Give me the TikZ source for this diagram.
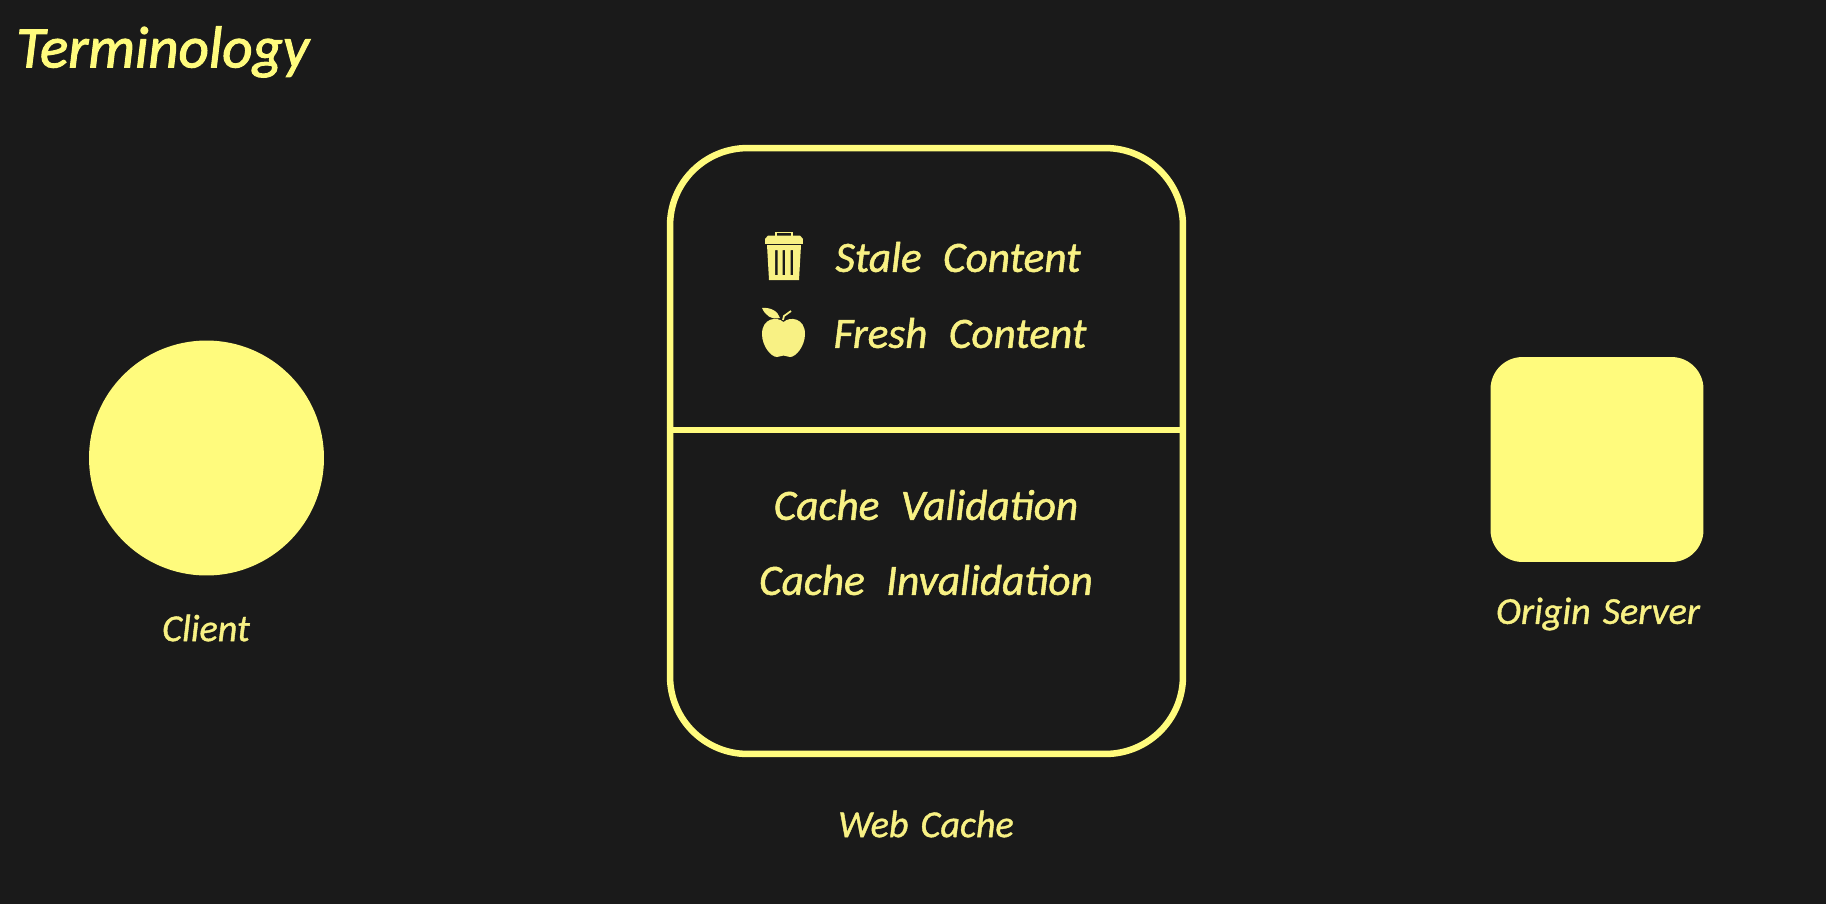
\documentclass[tikz,border=0pt]{standalone}
\usepackage{fontspec}
\setmainfont{Carlito}
\newfontfamily\handfont[ItalicFeatures={FakeBold=1.2},WordSpace=2.2]{Carlito}
\newfontfamily\tagfont[ItalicFeatures={FakeBold=1},WordSpace=1.4]{Carlito}
\newfontfamily\headfont[ItalicFeatures={FakeBold=1.8}]{Carlito}
\usepackage{tikz}
\usetikzlibrary{positioning}
\definecolor{bgdark}{HTML}{1A1A1A}
\definecolor{lemon}{HTML}{FFFB7D}
\definecolor{lemontext}{HTML}{F8F184}
\begin{document}
\begin{tikzpicture}[
  x=0.02cm,y=-0.02cm,
  lbl/.style={text=lemontext,inner sep=0pt,font=\handfont\fontsize{24.6}{28}\selectfont\itshape,anchor=center},
  tag/.style={lbl,font=\tagfont\fontsize{21.7}{26}\selectfont\itshape},
  heading/.style={text=lemon,inner sep=0pt,font=\headfont\fontsize{33.5}{40}\selectfont\itshape,anchor=west},
  icon/.style={fill=lemontext,draw=none}
]
\useasboundingbox[fill=bgdark] (0,0) rectangle (1826,904);
\node[heading] (head) at (16,52) {Terminology};
% client and origin
\node[circle,fill=lemon,minimum size=4.70cm,inner sep=0pt] (client) at (206.5,458) {};
\node[tag] (clientlbl) at (206,628) {Client};
\node[rectangle,rounded corners=0.64cm,fill=lemon,minimum width=4.26cm,minimum height=4.10cm,inner sep=0pt] (origin) at (1597,459.5) {};
\node[tag] (originlbl) at (1598,614) {Origin Server};
% web cache
\node[rectangle,rounded corners=1.55cm,draw=lemon,line width=3.7pt,minimum width=10.26cm,minimum height=12.12cm,inner sep=0pt] (cache) at (926.5,451) {};
\coordinate (divl) at (cache.west |- 0,430);
\coordinate (divr) at (cache.east |- 0,430);
\draw[draw=lemon,line width=3.5pt] (divl) -- (divr);
\node[tag] (cachelbl) at (926,824) {Web Cache};
\node[lbl] (stale) at (958,257) {Stale Content};
\node[lbl] (fresh) at (960,333) {Fresh Content};
\node[lbl] (valid) at (926,505) {Cache Validation};
\node[lbl] (inval) at (926,580) {Cache Invalidation};
% bin
\fill[icon] (765,239) rectangle (803,243.5);
\draw[lemontext,line width=1pt] (776,236) -- (776,232.5) -- (792,232.5) -- (792,236);
\fill[icon] (768,235.5) -- (800,235.5) -- (803,239) -- (765,239) -- cycle;
\fill[icon,even odd rule] (767,245) -- (801,245) -- (799,280) -- (769,280) -- cycle
  (775,250) rectangle (777.5,275) (782.5,250) rectangle (785,275) (790.5,250) rectangle (793,275);
% apple
\fill[icon] (783.5,322) .. controls (790,316) and (805,318) .. (805,334)
  .. controls (805,346) and (796,357) .. (790,357)
  .. controls (787,357) and (786,355.5) .. (783.5,355.5)
  .. controls (781,355.5) and (780,357) .. (777,357)
  .. controls (771,357) and (762,346) .. (762,334)
  .. controls (762,318) and (777,316) .. (783.5,322) -- cycle;
\fill[icon] (762,308) .. controls (770,307) and (778,311) .. (780,318) .. controls (771,320) and (765,315) .. (762,308) -- cycle;
\draw[lemontext,line width=1pt] (783,320) -- (784,316) -- (791,311);
\end{tikzpicture}
\end{document}
